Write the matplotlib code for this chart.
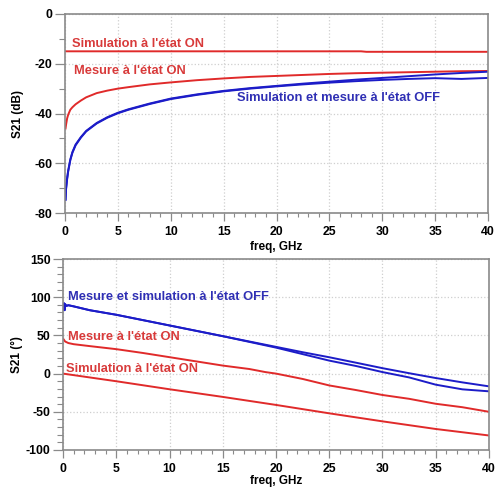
import matplotlib
matplotlib.use("Agg")
import matplotlib.pyplot as plt
from matplotlib.ticker import MultipleLocator

plt.rcParams['font.family'] = ['Liberation Sans', 'DejaVu Sans']
plt.rcParams['axes.unicode_minus'] = False

# ---------------- data: magnitude (dB) ----------------
f_top = [0.05, 0.1, 0.2, 0.3, 0.5, 0.7, 1, 1.5, 2, 3, 4, 5, 6, 8, 10, 12.5, 15,
         17.5, 20, 22.5, 25, 27.5, 30, 32.5, 35, 37.5, 40]
mes_on_db = [-46, -44.5, -42, -40.5, -38.5, -37.5, -36.3, -34.8, -33.5, -31.8, -30.8,
             -30, -29.4, -28.3, -27.5, -26.6, -25.9, -25.3, -24.9, -24.5, -24.1, -23.8,
             -23.6, -23.4, -23.2, -23.0, -22.9]
off_sim_db = [-74.5, -70, -66, -63, -58.5, -55.5, -52.5, -49.5, -47, -43.8, -41.5,
              -39.7, -38.3, -36, -34, -32.3, -30.9, -29.8, -28.9, -28, -27.2, -26.4,
              -25.7, -25, -24.3, -23.7, -23.2]
off_mes_db = [-74.8, -70.5, -66.5, -63.3, -58.8, -55.8, -52.8, -49.7, -47.2, -44, -41.7,
              -39.9, -38.5, -36.2, -34.2, -32.5, -31.1, -30, -29.1, -28.3, -27.6, -27,
              -26.5, -26.1, -25.8, -26.1, -25.7]
f_sim_on_db = [0, 28, 28.5, 40]
sim_on_db = [-15.0, -15.0, -15.2, -15.2]

# ---------------- data: phase (deg) ----------------
f_ph_off = [0.05, 0.1, 0.15, 0.2, 0.3, 0.5, 1, 2.5, 5, 7.5, 10, 12.5, 15, 17.5, 20,
            22.5, 25, 27.5, 30, 32.5, 35, 37.5, 40]
off_sim_ph = [84, 92, 83, 91, 88.5, 89.5, 88, 83, 77, 70, 63, 56, 49, 42, 35,
              28, 21.4, 14.3, 7.1, 0.5, -5.8, -11.5, -16.7]
off_mes_ph = [84, 92, 83, 91, 88.5, 89.5, 88, 83, 77, 70, 63, 56, 49, 41.5, 34,
              25.5, 17, 10, 2, -5, -14.5, -20.6, -23.2]
f_ph_mes_on = [0.05, 0.2, 0.5, 1, 2.5, 5, 7.5, 10, 12.5, 15, 17.5, 19, 20, 22.5,
               25, 27.5, 30, 32.5, 35, 37.5, 40]
mes_on_ph = [45, 42, 40, 38.5, 36, 32, 27, 21.5, 16, 10.5, 6, 2, 0, -7,
             -15.5, -21.5, -28, -33, -39.5, -44, -50]
f_ph_sim_on = [0, 5, 10, 15, 20, 25, 30, 35, 40]
sim_on_ph = [0, -10, -20.5, -30.5, -41, -52, -62.5, -72.5, -81]

RED = '#e02a2a'
BLUE = '#1c1cc8'
RED_T = '#d83a3a'
BLUE_T = '#2f2fb4'
GRAY = '#8a8a8a'
FS_TICK = 8.8
FS_LAB = 8.5
FS_ANN = 9.3

fig = plt.figure(figsize=(4.97, 4.91), dpi=100)

def style(ax, ymin, ymax, ymajor, yminor):
    ax.set_xlim(0, 40)
    ax.set_ylim(ymin, ymax)
    ax.xaxis.set_major_locator(MultipleLocator(5))
    ax.xaxis.set_minor_locator(MultipleLocator(1))
    ax.yaxis.set_major_locator(MultipleLocator(ymajor))
    ax.yaxis.set_minor_locator(MultipleLocator(yminor))
    ax.grid(True, which='major', color='#cfcfcf', linestyle=':', linewidth=0.9)
    for s in ax.spines.values():
        s.set_color(GRAY)
        s.set_linewidth(1.2)
    ax.tick_params(which='both', color=GRAY, labelsize=FS_TICK)
    ax.tick_params(axis='y', which='major', length=7.5, width=0.9, pad=1.5)
    ax.tick_params(axis='y', which='minor', length=4, width=0.8)
    ax.tick_params(axis='x', which='major', length=6, width=0.9, pad=3.5)
    ax.tick_params(axis='x', which='minor', length=3, width=0.8)
    for lab in ax.get_xticklabels() + ax.get_yticklabels():
        lab.set_fontweight('bold')
    ax.set_xlabel('freq, GHz', fontsize=FS_LAB, fontweight='bold')

# ---------------- top axes ----------------
ax1 = fig.add_axes([65/497, 1-213/491, 423/497, 199/491])
style(ax1, -80, 0, 20, 10)
ax1.plot(f_sim_on_db, sim_on_db, color=RED, lw=1.4)
ax1.plot(f_top, mes_on_db, color=RED, lw=1.4)
ax1.plot(f_top, off_mes_db, color=BLUE, lw=1.4)
ax1.plot(f_top, off_sim_db, color=BLUE, lw=1.4)
ax1.set_ylabel('S21 (dB)', fontsize=FS_LAB, fontweight='bold')
ax1.yaxis.set_label_coords(-0.098, 0.5)
ax1.xaxis.set_label_coords(0.5, -0.14)
ax1.text(0.66, -12, "Simulation à l'état ON", color=RED_T, fontsize=FS_ANN,
         fontweight='bold', va='center', ha='left')
ax1.text(0.85, -23, "Mesure à l'état ON", color=RED_T, fontsize=FS_ANN,
         fontweight='bold', va='center', ha='left')
ax1.text(16.3, -33.8, "Simulation et mesure à l'état OFF", color=BLUE_T,
         fontsize=FS_ANN, fontweight='bold', va='center', ha='left')

# ---------------- bottom axes ----------------
ax2 = fig.add_axes([63/497, 1-450/491, 426/497, 191/491])
style(ax2, -100, 150, 50, 10)
ax2.plot(f_ph_sim_on, sim_on_ph, color=RED, lw=1.4)
ax2.plot(f_ph_mes_on, mes_on_ph, color=RED, lw=1.4)
ax2.plot(f_ph_off, off_mes_ph, color=BLUE, lw=1.4)
ax2.plot(f_ph_off, off_sim_ph, color=BLUE, lw=1.4)
ax2.set_ylabel('S21 (°)', fontsize=FS_LAB, fontweight='bold')
ax2.yaxis.set_label_coords(-0.094, 0.5)
ax2.xaxis.set_label_coords(0.5, -0.13)
ax2.text(0.47, 100.5, "Mesure et simulation à l'état OFF", color=BLUE_T,
         fontsize=FS_ANN, fontweight='bold', va='center', ha='left')
ax2.text(0.47, 47.5, "Mesure à l'état ON", color=RED_T, fontsize=FS_ANN,
         fontweight='bold', va='center', ha='left')
ax2.text(0.3, 6.6, "Simulation à l'état ON", color=RED_T, fontsize=FS_ANN,
         fontweight='bold', va='center', ha='left')

fig.savefig('out.png', dpi=100)
